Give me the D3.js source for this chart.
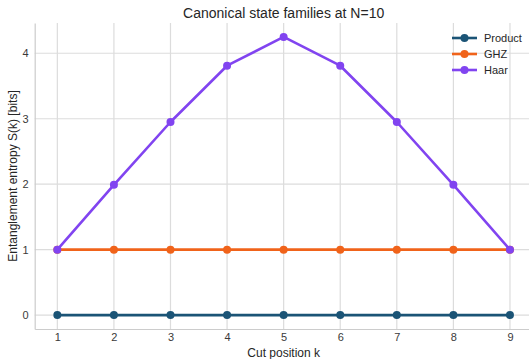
<!DOCTYPE html>
<html>
<head>
<meta charset="utf-8">
<script src="https://cdn.jsdelivr.net/npm/d3@7"></script>
<style>
  body { margin: 0; background: #fff; }
  svg { display: block; font-family: "Liberation Sans", Arial, sans-serif; }
</style>
</head>
<body>
<div id="chart"></div>
<script>
const cuts = [1, 2, 3, 4, 5, 6, 7, 8, 9];
const product = [0, 0, 0, 0, 0, 0, 0, 0, 0];
const ghz = [1, 1, 1, 1, 1, 1, 1, 1, 1];
const haar = [1, 1.99, 2.95, 3.81, 4.25, 3.81, 2.95, 1.99, 1];
const yTicks = [0, 1, 2, 3, 4];
const seriesNames = ["Product", "GHZ", "Haar"];
const seriesColors = ["#1b5476", "#f0631a", "#8144f0"];

const width = 529, height = 359;
const margin = { left: 34.7, right: -3.6, top: 23, bottom: 30 };

const svg = d3.select("#chart").append("svg")
    .attr("width", width)
    .attr("height", height);

const x = d3.scaleLinear()
    .domain([0.6, 9.4])
    .range([margin.left, width - margin.right]);

const yMax = d3.max(haar);
const pad = yMax * 0.05;
const y = d3.scaleLinear()
    .domain([-pad, yMax + pad])
    .range([height - margin.bottom, margin.top]);

// grid
svg.append("g")
    .selectAll("line")
    .data(cuts)
    .enter().append("line")
    .attr("x1", d => x(d)).attr("x2", d => x(d))
    .attr("y1", margin.top).attr("y2", height - margin.bottom)
    .attr("stroke", "#dcdcdc")
    .attr("stroke-width", 1.2);

svg.append("g")
    .selectAll("line")
    .data(yTicks)
    .enter().append("line")
    .attr("x1", margin.left).attr("x2", width)
    .attr("y1", d => y(d)).attr("y2", d => y(d))
    .attr("stroke", "#dcdcdc")
    .attr("stroke-width", 1.2);

// axes
const xAxis = svg.append("g")
    .attr("transform", `translate(0,${height - margin.bottom})`)
    .call(d3.axisBottom(x).tickValues(cuts).tickSize(0).tickPadding(4).tickFormat(d3.format("d")));

const yAxis = svg.append("g")
    .attr("transform", `translate(${margin.left},0)`)
    .call(d3.axisLeft(y).tickValues(yTicks).tickSize(0).tickPadding(6).tickFormat(d3.format("d")));

[xAxis, yAxis].forEach(a => {
    a.select(".domain").attr("stroke", "#cccccc").attr("stroke-width", 1.2);
    a.selectAll("text").attr("fill", "#3a3a3a").attr("font-size", 11);
});

// lines
const allSeries = [product, ghz, haar];
const line = d3.line()
    .x((d, i) => x(cuts[i]))
    .y(d => y(d));

allSeries.forEach((vals, s) => {
    svg.append("path")
        .datum(vals)
        .attr("d", line)
        .attr("fill", "none")
        .attr("stroke", seriesColors[s])
        .attr("stroke-width", 2.6)
        .attr("stroke-linejoin", "round");

    svg.append("g")
        .selectAll("circle")
        .data(vals)
        .enter().append("circle")
        .attr("cx", (d, i) => x(cuts[i]))
        .attr("cy", d => y(d))
        .attr("r", 4)
        .attr("fill", seriesColors[s]);
});

// title and labels
svg.append("text")
    .attr("x", (margin.left + width - margin.right) / 2)
    .attr("y", 18)
    .attr("text-anchor", "middle")
    .attr("font-size", 14)
    .attr("fill", "#262626")
    .text("Canonical state families at N=10");

svg.append("text")
    .attr("x", (margin.left + width - margin.right) / 2)
    .attr("y", 357)
    .attr("text-anchor", "middle")
    .attr("font-size", 12)
    .attr("fill", "#262626")
    .text("Cut position k");

svg.append("text")
    .attr("transform", `translate(17,${(margin.top + height - margin.bottom) / 2}) rotate(-90)`)
    .attr("text-anchor", "middle")
    .attr("font-size", 12)
    .attr("fill", "#262626")
    .text("Entanglement entropy S(k) [bits]");

// legend
const legend = svg.append("g")
    .attr("transform", "translate(452,38)");

seriesNames.forEach((name, i) => {
    const g = legend.append("g").attr("transform", `translate(0,${i * 16})`);
    g.append("line")
        .attr("x1", 0).attr("x2", 25)
        .attr("stroke", seriesColors[i])
        .attr("stroke-width", 2.6);
    g.append("circle")
        .attr("cx", 12.5).attr("r", 4)
        .attr("fill", seriesColors[i]);
    g.append("text")
        .attr("x", 32)
        .attr("dy", "0.35em")
        .attr("font-size", 11)
        .attr("fill", "#262626")
        .text(name);
});
</script>
</body>
</html>
